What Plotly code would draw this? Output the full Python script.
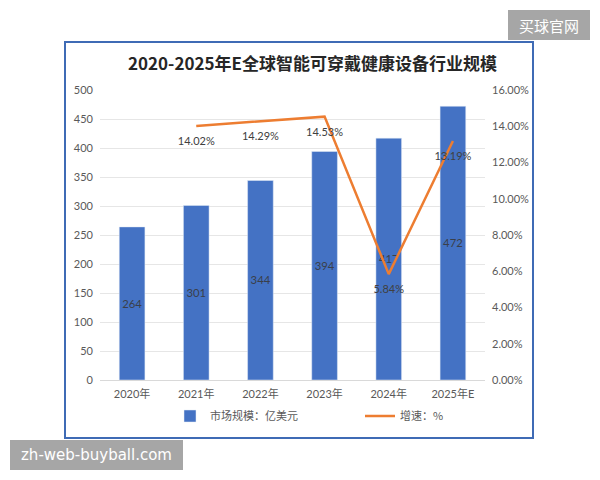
import plotly.graph_objects as go

years = ["2020年", "2021年", "2022年", "2023年", "2024年", "2025年E"]
market = [264, 301, 344, 394, 417, 472]
growth_years = ["2021年", "2022年", "2023年", "2024年", "2025年E"]
growth = [14.02, 14.29, 14.53, 5.84, 13.19]

FONT = "Lato, Noto Sans CJK SC, sans-serif"
CJK = "Noto Sans CJK SC, sans-serif"
L, R, T, B = 100, 115, 90, 100
W, H = 600, 480
PW, PH = W - L - R, H - T - B

def px(x):
    return (x - L) / PW

def py(y):
    return (H - B - y) / PH

fig = go.Figure()
fig.add_trace(go.Bar(
    x=years, y=market, name="市场规模：亿美元",
    marker_color="#4472C4", width=0.4,
    text=[str(v) for v in market], textposition="inside", textangle=0,
    insidetextanchor="middle",
    textfont=dict(color="#3a3f4a", size=12, family=FONT),
    yaxis="y", legend="legend",
))
fig.add_trace(go.Scatter(
    x=growth_years, y=growth, name="增速：%", mode="lines+markers+text",
    line=dict(color="#ED7D31", width=2.5),
    marker=dict(size=16, color="rgba(0,0,0,0)"),
    text=[f"{v:.2f}%" for v in growth], textposition="bottom center",
    textfont=dict(color="#404040", size=11, family=FONT),
    yaxis="y2", legend="legend2",
))

leg_common = dict(orientation="h", yanchor="middle", y=py(416), xanchor="left",
                  font=dict(family=CJK, size=11, color="#595959"),
                  itemwidth=30, bgcolor="rgba(0,0,0,0)")

fig.update_layout(
    width=W, height=H,
    margin=dict(l=L, r=R, t=T, b=B, autoexpand=False),
    paper_bgcolor="white", plot_bgcolor="white",
    font=dict(family=FONT, color="#595959", size=11),
    showlegend=True,
    legend=dict(x=px(170), **leg_common),
    legend2=dict(x=px(360), **leg_common),
    xaxis=dict(showline=True, linecolor="#D9D9D9", linewidth=1, ticks="",
               tickfont=dict(size=11, family=FONT, color="#595959"),
               range=[-0.5, 5.5], ticklabelstandoff=4),
    yaxis=dict(range=[0, 500], dtick=50, showgrid=True, gridcolor="#E6E6E6",
               zeroline=False, tickfont=dict(size=11, color="#595959"),
               ticklabelstandoff=6),
    yaxis2=dict(range=[0, 16], dtick=2, overlaying="y", side="right",
                showgrid=False, zeroline=False, ticksuffix="%", tickformat=".2f",
                tickfont=dict(size=11, color="#595959"), ticklabelstandoff=6),
    annotations=[
        dict(text="<b>2020-2025年E全球智能可穿戴健康设备行业规模</b>", xref="paper", yref="paper",
             x=px(312), y=py(63), xanchor="center", yanchor="middle", showarrow=False,
             font=dict(family=CJK, size=17, color="#262626")),
        dict(text="买球官网", xref="paper", yref="paper", x=px(549), y=py(25),
             xanchor="center", yanchor="middle", showarrow=False,
             font=dict(family=CJK, size=15, color="white")),
        dict(text="zh-web-buyball.com", xref="paper", yref="paper", x=px(96), y=py(455),
             xanchor="center", yanchor="middle", showarrow=False,
             font=dict(family="DejaVu Sans, sans-serif", size=15, color="white")),
    ],
    shapes=[
        dict(type="rect", xref="paper", yref="paper", x0=px(65), x1=px(533), y0=py(438), y1=py(42),
             line=dict(color="#3F6BB5", width=2), fillcolor="rgba(0,0,0,0)", layer="below"),
        dict(type="rect", xref="paper", yref="paper", x0=px(508), x1=px(590), y0=py(40), y1=py(10),
             line=dict(width=0), fillcolor="#A6A6A6", layer="above"),
        dict(type="rect", xref="paper", yref="paper", x0=px(10), x1=px(183), y0=py(470), y1=py(440),
             line=dict(width=0), fillcolor="#A6A6A6", layer="above"),
    ],
)

fig.write_html("out.html")
